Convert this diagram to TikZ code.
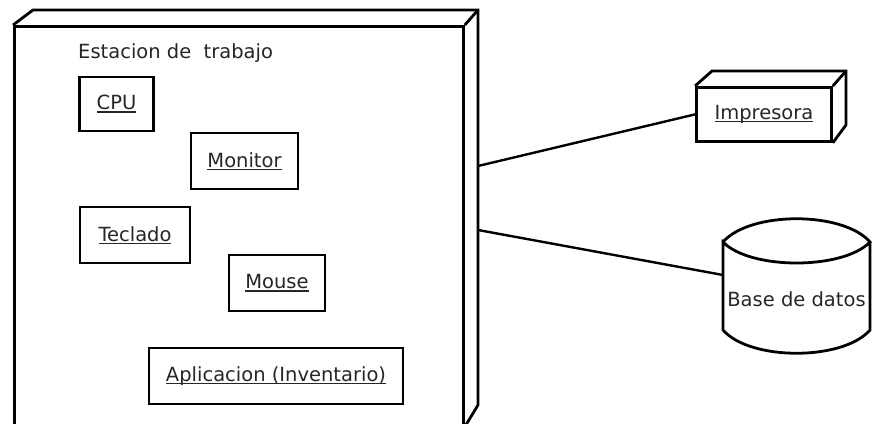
\documentclass[tikz,border=0pt]{standalone}
\usepackage{fontspec}
\setmainfont{DejaVu Sans}
\newcommand\myul[1]{\setbox0\hbox{#1}\rlap{\rule[-2.8pt]{\wd0}{1.3pt}}\box0}
\begin{document}
\begin{tikzpicture}[x=1pt,y=-1pt,
  every node/.style={font=\fontsize{19.5}{22}\selectfont, text=black!85},
  box/.style={draw, line width=2.8pt, inner sep=0pt},
  edge3d/.style={line width=2.8pt, line join=miter},
  conn/.style={line width=2.4pt}]
\useasboundingbox (0,0) rectangle (872,423);
\fill[white] (0,0) rectangle (872,423);
% workstation node (3D box)
\node[box, anchor=north west, minimum width=449pt, minimum height=399pt] (ws) at (13,25) {};
\coordinate (wsbl) at (33,10);
\coordinate (wsbr) at (478,10);
\coordinate (wsbb) at (478,405);
\draw[edge3d] (ws.north west) -- (wsbl) -- (wsbr) -- (wsbb) -- (ws.south east);
\draw[edge3d] (wsbr) -- (ws.north east);
\node[anchor=base west, inner sep=0pt] (title) at (78,58) {Estacion de\ \ trabajo};
% inner components
\node[box, minimum width=74pt, minimum height=54pt] (cpu) at (116.5,104) {\myul{CPU}};
\node[box, minimum width=107pt, minimum height=56pt] (mon) at (244.5,161) {\myul{Monitor}};
\node[box, minimum width=110pt, minimum height=56pt] (tec) at (135,235) {\myul{Teclado}};
\node[box, minimum width=96pt, minimum height=56pt] (mou) at (277,283) {\myul{Mouse}};
\node[box, minimum width=254pt, minimum height=56pt] (app) at (276,376) {\myul{Aplicacion (Inventario)}};
% printer node (3D box)
\node[box, anchor=north west, minimum width=135pt, minimum height=54pt] (pr) at (695,86) {\myul{Impresora}};
\coordinate (prbl) at (712,71);
\coordinate (prbr) at (846,71);
\coordinate (prbb) at (846,125);
\draw[edge3d] (pr.north west) -- (prbl) -- (prbr) -- (prbb) -- (pr.south east);
\draw[edge3d] (prbr) -- (pr.north east);
% database cylinder
\node[minimum width=147pt, minimum height=88pt, inner sep=0pt] (db) at (796.5,286) {};
\node[inner sep=0pt] (dbt) at (796.5,299) {Base de datos};
\draw[edge3d] (723,242) .. controls (750,211) and (843,211) .. (870,242)
   .. controls (843,270) and (750,270) .. (723,242) -- (723,330)
   .. controls (750,361) and (843,361) .. (870,330) -- (870,242);
\coordinate (dbin) at (723,275);
% connectors
\coordinate (c1) at (478,166);
\coordinate (c2) at (478,230);
\draw[conn] (c1) -- (pr.west);
\draw[conn] (c2) -- (dbin);
\end{tikzpicture}
\end{document}
